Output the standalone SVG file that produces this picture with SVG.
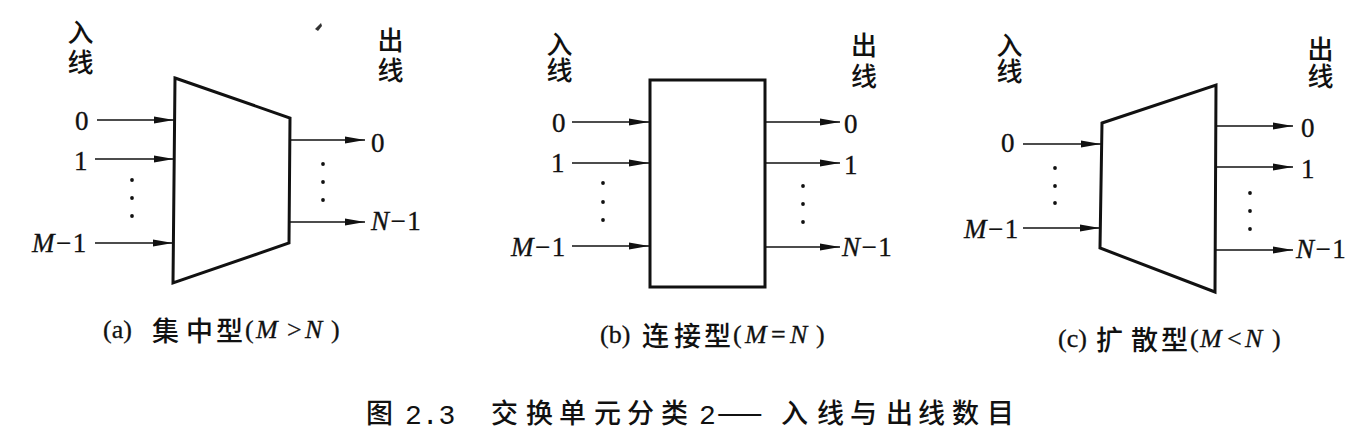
<svg xmlns="http://www.w3.org/2000/svg" width="1366" height="442" viewBox="0 0 1366 442">
<style>
.num{font-family:"Liberation Serif",serif;font-size:27px;fill:#111;stroke:#111;stroke-width:0.35;letter-spacing:1.5px}
.it{font-style:italic}
.cjk{font-family:"Noto Sans CJK SC",sans-serif;font-size:26px;fill:#111;font-weight:500;writing-mode:vertical-rl}
.capl{font-family:"Liberation Serif",serif;font-size:26px;fill:#111;stroke:#111;stroke-width:0.3}
.capc{font-family:"Noto Sans CJK SC",sans-serif;font-size:27px;fill:#111;font-weight:500}
.fig{font-family:"Noto Sans CJK SC",sans-serif;font-size:27px;fill:#111;font-weight:500}
.mono{font-family:"Liberation Mono",monospace;font-size:28px;fill:#111}
.box{fill:#fff;stroke:#111;stroke-width:3;stroke-linejoin:miter}
.ln{stroke:#111;stroke-width:1.6;fill:none;marker-end:url(#arr)}
.dot{fill:#111}
</style>
<defs>
<marker id="arr" markerUnits="userSpaceOnUse" markerWidth="20" markerHeight="8" refX="20" refY="4" orient="auto">
<path d="M0,0.4 L20,4 L0,7.6 z" fill="#111"/>
</marker>
</defs>
<rect width="1366" height="442" fill="#fff"/>

<g id="connectors">
<line class="ln" x1="97" y1="120" x2="174" y2="120"/>
<line class="ln" x1="95" y1="159" x2="174" y2="159"/>
<line class="ln" x1="95" y1="243" x2="173" y2="243"/>
<line class="ln" x1="290" y1="140" x2="365" y2="140"/>
<line class="ln" x1="289" y1="222" x2="365" y2="222"/>
<line class="ln" x1="572" y1="122" x2="649" y2="122"/>
<line class="ln" x1="572" y1="163" x2="649" y2="163"/>
<line class="ln" x1="572" y1="246" x2="649" y2="246"/>
<line class="ln" x1="765" y1="122" x2="840" y2="122"/>
<line class="ln" x1="765" y1="163" x2="840" y2="163"/>
<line class="ln" x1="765" y1="247" x2="840" y2="247"/>
<line class="ln" x1="1023" y1="144" x2="1101" y2="144"/>
<line class="ln" x1="1023" y1="228" x2="1100" y2="228"/>
<line class="ln" x1="1216" y1="126" x2="1293" y2="126"/>
<line class="ln" x1="1216" y1="167" x2="1293" y2="167"/>
<line class="ln" x1="1216" y1="250" x2="1293" y2="250"/>
</g>

<g id="node-a">
<polygon class="box" points="175,78 290,118 289,243 173,283"/>
<text class="cjk" x="80.5" y="19" style="letter-spacing:4px">入线</text>
<text class="cjk" x="390.5" y="27" style="letter-spacing:4px">出线</text>
<text class="num" x="75" y="130">0</text>
<text class="num" x="74" y="170">1</text>
<text class="num" x="32" y="252"><tspan class="it">M</tspan>−1</text>
<text class="num" x="371" y="152">0</text>
<text class="num" x="371" y="230"><tspan class="it">N</tspan>−1</text>
<circle class="dot" cx="132" cy="180" r="1.9"/><circle class="dot" cx="132" cy="198" r="1.9"/><circle class="dot" cx="132" cy="216" r="1.9"/>
<circle class="dot" cx="323" cy="164" r="1.9"/><circle class="dot" cx="323" cy="182" r="1.9"/><circle class="dot" cx="323" cy="200" r="1.9"/>
<path d="M315,29 L321,23 L322,26 L318,31 Z" fill="#333"/>
</g>

<g id="node-b">
<rect class="box" x="650" y="80" width="115" height="207"/>
<text class="cjk" x="559.5" y="31" style="letter-spacing:0px">入线</text>
<text class="cjk" x="864" y="32" style="letter-spacing:5px">出线</text>
<text class="num" x="552" y="132">0</text>
<text class="num" x="551" y="172">1</text>
<text class="num" x="511" y="256"><tspan class="it">M</tspan>−1</text>
<text class="num" x="844" y="133">0</text>
<text class="num" x="844" y="174">1</text>
<text class="num" x="842" y="256"><tspan class="it">N</tspan>−1</text>
<circle class="dot" cx="603" cy="183" r="1.9"/><circle class="dot" cx="603" cy="202" r="1.9"/><circle class="dot" cx="603" cy="220" r="1.9"/>
<circle class="dot" cx="803" cy="186" r="1.9"/><circle class="dot" cx="803" cy="204" r="1.9"/><circle class="dot" cx="803" cy="222" r="1.9"/>
</g>

<g id="node-c">
<polygon class="box" points="1102,123 1216,85 1215,292 1100,248"/>
<text class="cjk" x="1009.5" y="32" style="letter-spacing:0px">入线</text>
<text class="cjk" x="1320.5" y="36" style="letter-spacing:1px">出线</text>
<text class="num" x="1001" y="152">0</text>
<text class="num" x="964" y="238"><tspan class="it">M</tspan>−1</text>
<text class="num" x="1301" y="137">0</text>
<text class="num" x="1301" y="178">1</text>
<text class="num" x="1296" y="258"><tspan class="it">N</tspan>−1</text>
<circle class="dot" cx="1055" cy="168" r="1.9"/><circle class="dot" cx="1055" cy="186" r="1.9"/><circle class="dot" cx="1055" cy="203" r="1.9"/>
<circle class="dot" cx="1250" cy="193" r="1.9"/><circle class="dot" cx="1250" cy="211" r="1.9"/><circle class="dot" cx="1250" cy="229" r="1.9"/>
</g>

<g id="captions">
<text class="capl" x="103" y="338">(a)</text>
<text class="capc" y="341"><tspan x="152">集</tspan><tspan x="186">中</tspan><tspan x="216">型</tspan></text>
<text class="capl" y="338"><tspan x="245">(</tspan><tspan class="it" x="256">M</tspan><tspan x="287">&gt;</tspan><tspan class="it" x="305">N</tspan><tspan x="331">)</tspan></text>

<text class="capl" x="600" y="343">(b)</text>
<text class="capc" y="346"><tspan x="642">连</tspan><tspan x="674">接</tspan><tspan x="704">型</tspan></text>
<text class="capl" y="343"><tspan x="733">(</tspan><tspan class="it" x="745">M</tspan><tspan x="771">=</tspan><tspan class="it" x="790">N</tspan><tspan x="816">)</tspan></text>

<text class="capl" x="1058" y="347">(c)</text>
<text class="capc" y="350"><tspan x="1096">扩</tspan><tspan x="1131">散</tspan><tspan x="1161">型</tspan></text>
<text class="capl" y="347"><tspan x="1190">(</tspan><tspan class="it" x="1200">M</tspan><tspan x="1227">&lt;</tspan><tspan class="it" x="1245">N</tspan><tspan x="1272">)</tspan></text>

<text class="fig" x="366" y="423">图</text>
<text class="mono" x="405" y="424">2.3</text>
<text class="fig" y="423"><tspan x="491">交</tspan><tspan x="526">换</tspan><tspan x="559">单</tspan><tspan x="594">元</tspan><tspan x="627">分</tspan><tspan x="661">类</tspan></text>
<text class="mono" x="699" y="424">2</text>
<text class="fig" x="717" y="423" style="letter-spacing:3px">——</text>
<text class="fig" y="423"><tspan x="781">入</tspan><tspan x="817">线</tspan><tspan x="850">与</tspan><tspan x="886">出</tspan><tspan x="918">线</tspan><tspan x="952">数</tspan><tspan x="987">目</tspan></text>
</g>
</svg>
